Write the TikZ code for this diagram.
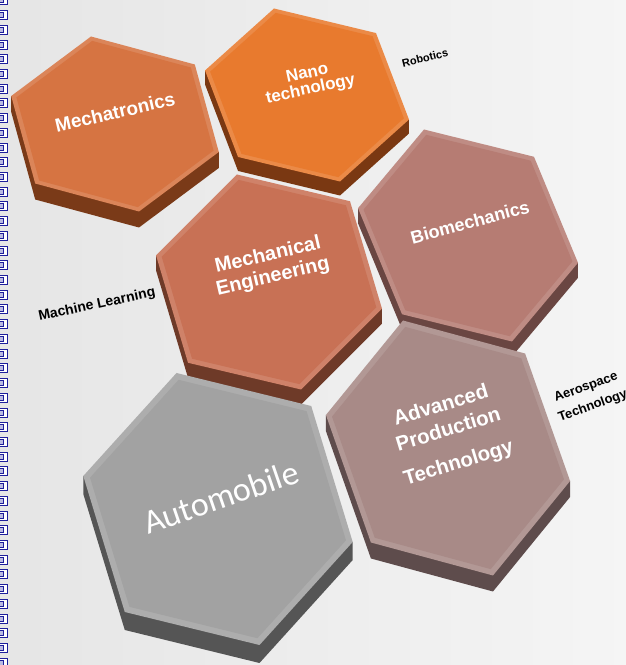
\documentclass[tikz,border=0pt]{standalone}
\usepackage{fontspec}
\setmainfont{Liberation Sans}
\newfontfamily\autofont{Carlito}
\definecolor{iconblue}{HTML}{1E1E9C}
\definecolor{mechaC}{HTML}{D67442}
\definecolor{mechaS}{HTML}{7A3A18}
\definecolor{nanoC}{HTML}{E87A2E}
\definecolor{nanoS}{HTML}{7A3812}
\definecolor{mechC}{HTML}{C87155}
\definecolor{mechS}{HTML}{6E3A28}
\definecolor{bioC}{HTML}{B67C73}
\definecolor{bioS}{HTML}{6A4642}
\definecolor{advC}{HTML}{A88A87}
\definecolor{advS}{HTML}{5E4C4C}
\definecolor{autoC}{HTML}{A2A2A2}
\definecolor{autoS}{HTML}{555555}

% centre, x vector, y vector, face colour, side colour, depth
\newcommand{\hexblock}[6]{%
  \begin{scope}[shift={#1}, x={#2}, y={#3}]
    \fill[#5] (150:1) -- ([yshift=-#6pt]150:1) -- ([yshift=-#6pt]210:1) -- ([yshift=-#6pt]270:1)
      -- ([yshift=-#6pt]330:1) -- (330:1) -- cycle;
    \fill[#4!88!white] (90:1) -- (30:1) -- (-30:1) -- (-90:1) -- (-150:1) -- (150:1) -- cycle;
    \fill[#4] (90:0.95) -- (30:0.95) -- (-30:0.95) -- (-90:0.95) -- (-150:0.95) -- (150:0.95) -- cycle;
  \end{scope}}

\begin{document}
\begin{tikzpicture}[x=1pt, y=1pt,
    hexlabel/.style={text=white, align=center, inner sep=0pt},
    sidelabel/.style={text=black, align=center, inner sep=0pt},
    icon/.style={draw=iconblue, line width=0.9pt, fill=white}]

\useasboundingbox (0,0) rectangle (626,665);
\clip (0,0) rectangle (626,665);
\shade[left color=black!10, right color=black!4] (0,0) rectangle (626,665);

% icons down the left edge
\foreach \k in {0,...,45} {
  \draw[icon] (-3,{669.2-14.72*\k}) rectangle ++(10,-9);
  \draw[icon, fill=iconblue!30] (-3,{667.2-14.72*\k}) rectangle ++(6.5,-5);
}

% back row first
\hexblock{(115,541)}{(106pt,18.2pt)}{(-24pt,87.5pt)}{mechaC}{mechaS}{16}
\hexblock{(307,570)}{(98.7pt,21.6pt)}{(-33pt,86.5pt)}{nanoC}{nanoS}{14}
\hexblock{(269,383)}{(112pt,31.2pt)}{(-32pt,107.5pt)}{mechC}{mechS}{15}
\hexblock{(468,429.5)}{(101.6pt,29.7pt)}{(-44pt,106pt)}{bioC}{bioS}{15}
\hexblock{(448,217)}{(115pt,35.5pt)}{(-45pt,127.5pt)}{advC}{advS}{16}
\hexblock{(218,156)}{(131.6pt,40.4pt)}{(-41.5pt,136pt)}{autoC}{autoS}{18}

\node[hexlabel, rotate=13, font=\bfseries\fontsize{19}{21}\selectfont] (mechatronics) at (115,553) {Mechatronics};
\node[hexlabel, rotate=12, font=\bfseries\fontsize{17}{16}\selectfont] (nano) at (309,583) {Nano\\technology};
\node[hexlabel, rotate=13, font=\bfseries\fontsize{20}{22}\selectfont] (mecheng) at (270.5,398.5) {Mechanical\\Engineering};
\node[hexlabel, rotate=15, font=\bfseries\fontsize{18}{20}\selectfont] (biomech) at (470,443) {Biomechanics};
\node[hexlabel, rotate=17, font=\bfseries\fontsize{20.5}{25.5}\selectfont] (advprod) at (450,230) {Advanced\\Production\\[9pt]Technology};
\node[hexlabel, rotate=19, font=\autofont\fontsize{34}{36}\selectfont] (automobile) at (221,168) {Automobile};

\node[sidelabel, rotate=14, font=\bfseries\fontsize{11}{12}\selectfont] (robotics) at (425,607) {Robotics};
\node[sidelabel, rotate=12, font=\bfseries\fontsize{14}{15}\selectfont] (ml) at (97,360) {Machine Learning};
\node[sidelabel, rotate=20, font=\bfseries\fontsize{13}{20}\selectfont] (aero) at (589.5,268) {Aerospace\\Technology};
\end{tikzpicture}
\end{document}
